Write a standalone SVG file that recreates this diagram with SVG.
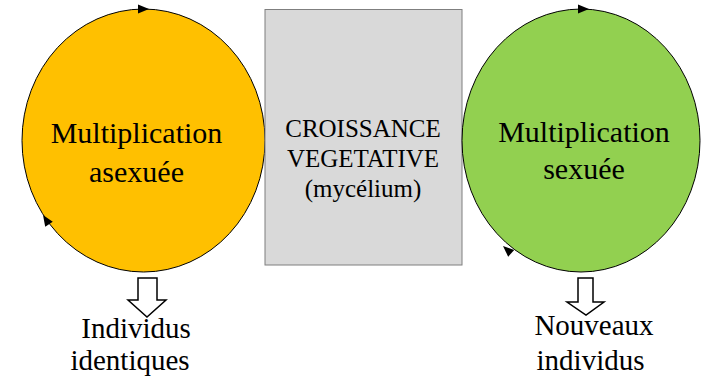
<svg xmlns="http://www.w3.org/2000/svg" width="704" height="386" viewBox="0 0 704 386">
<style>
text{font-family:"Liberation Serif","Times New Roman",serif;fill:#000;text-anchor:middle}
.big{font-size:30px}
.mid{font-size:25px}
.bot{font-size:29px}
.ah{fill:#000}
.blk{fill:#fff;stroke:#000;stroke-width:1.5}
</style>
<defs>
<polygon id="tri" points="0,0 -11,-4.5 -11,4.5" class="ah"/>
</defs>
<rect width="704" height="386" fill="#fff"/>
<g id="asexuee">
<ellipse cx="143.5" cy="140.5" rx="121.5" ry="131.5" fill="#ffc000" stroke="#000" stroke-width="1"/>
<text class="big" x="136.5" y="143">Multiplication</text>
<text class="big" x="136.5" y="182">asexuée</text>
</g>
<g id="croissance">
<rect x="265" y="9.5" width="197" height="255.5" fill="#d9d9d9" stroke="#7f7f7f" stroke-width="1"/>
<text class="mid" x="363" y="137">CROISSANCE</text>
<text class="mid" x="363" y="167">VEGETATIVE</text>
<text class="mid" x="363" y="197">(mycélium)</text>
</g>
<g id="sexuee">
<ellipse cx="581" cy="140.5" rx="119" ry="131.5" fill="#92d050" stroke="#000" stroke-width="1"/>
<text class="big" x="584" y="142">Multiplication</text>
<text class="big" x="584" y="179">sexuée</text>
</g>
<g id="individus-identiques">
<text class="bot" x="136" y="338">Individus</text>
<text class="bot" x="130" y="370">identiques</text>
</g>
<g id="nouveaux-individus">
<text class="bot" x="594" y="335">Nouveaux</text>
<text class="bot" x="590.5" y="370">individus</text>
</g>
<g id="connectors">
<use href="#tri" transform="translate(149,9)"/>
<use href="#tri" transform="translate(43,215) rotate(-123)"/>
<use href="#tri" transform="translate(589,9)"/>
<use href="#tri" transform="translate(503,246) rotate(-138)"/>
<polygon class="blk" points="138,278 157,278 157,300 166,300 147,317 128,300 138,300"/>
<polygon class="blk" points="578,278 593,278 593,302 604,302 586,315 567,302 578,302"/>
</g>
</svg>
